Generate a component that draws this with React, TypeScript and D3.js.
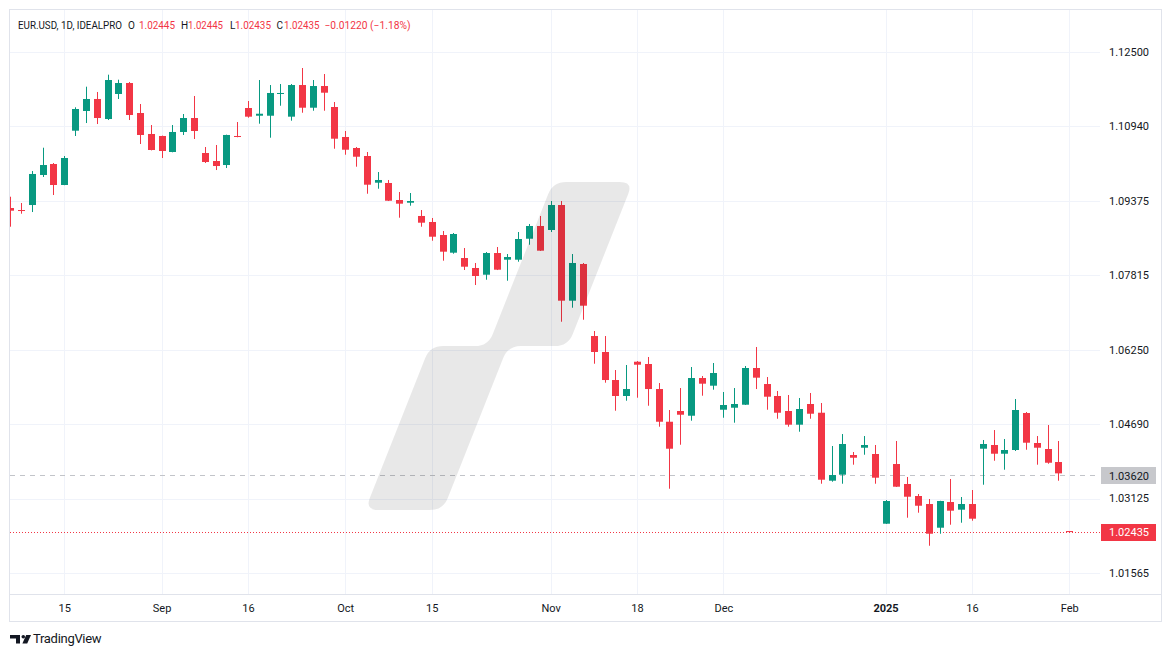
import React from 'react';
import * as d3 from 'd3';

const W = 1171;
const H = 657;

// OHLC per trading-bar index
const opens = [
  1.09221, 1.09179, 1.09284, 1.09914, 1.10144, 1.09704, 1.10843, 1.11256, 1.11508, 1.11088,
  1.11613, 1.11843, 1.11214, 1.10774, 1.10732, 1.10396, 1.10816, 1.11109, 1.10375, 1.10207,
  1.10123, 1.10732, 1.11319, 1.11157, 1.11157, 1.11613, 1.11137, 1.11801, 1.11325, 1.11780,
  1.11340, 1.10711, 1.10480, 1.10312, 1.09752, 1.09746, 1.09389, 1.09332, 1.09054, 1.08928,
  1.08655, 1.08284, 1.08172, 1.07963, 1.07822, 1.08277, 1.08137, 1.08137, 1.08577, 1.08844,
  1.08760, 1.09284, 1.07277, 1.08047, 1.06536, 1.06201, 1.05613, 1.05278, 1.05997, 1.05949,
  1.05424, 1.04738, 1.04963, 1.04864, 1.05655, 1.05494, 1.04990, 1.05032, 1.05095, 1.05865,
  1.05529, 1.05278, 1.04963, 1.04676, 1.05110, 1.04927, 1.03501, 1.03627, 1.04040, 1.04193,
  1.04061, 1.02599, 1.03851, 1.03432, 1.03180, 1.03012, 1.02515, 1.03054, 1.02893, 1.03012,
  1.04172, 1.04250, 1.04067, 1.04145, 1.04921, 1.04292, 1.04166, 1.03893, 1.02445,
];
const highs = [
  1.09458, 1.09326, 1.09997, 1.10486, 1.10165, 1.10312, 1.11334, 1.11766, 1.11655, 1.12018,
  1.11913, 1.11864, 1.11403, 1.10962, 1.10740, 1.10962, 1.11193, 1.11571, 1.10501, 1.10543,
  1.10760, 1.11025, 1.11466, 1.11906, 1.11801, 1.11822, 1.11822, 1.12158, 1.11906, 1.12032,
  1.11445, 1.10837, 1.10501, 1.10396, 1.09976, 1.09809, 1.09557, 1.09536, 1.09179, 1.09012,
  1.08739, 1.08697, 1.08382, 1.08068, 1.08298, 1.08403, 1.08256, 1.08718, 1.08886, 1.09054,
  1.09368, 1.09368, 1.08256, 1.08068, 1.06641, 1.06536, 1.05823, 1.05928, 1.06011, 1.06096,
  1.05550, 1.04984, 1.05445, 1.05886, 1.05697, 1.05970, 1.05362, 1.05445, 1.05907, 1.06306,
  1.05676, 1.05383, 1.05299, 1.05236, 1.05341, 1.05131, 1.04229, 1.04480, 1.04103, 1.04438,
  1.04250, 1.03096, 1.04334, 1.03579, 1.03222, 1.03117, 1.03080, 1.03537, 1.03159, 1.03306,
  1.04355, 1.04564, 1.04376, 1.05215, 1.04942, 1.04438, 1.04669, 1.04334, 1.02445,
];
const lows = [
  1.08829, 1.09102, 1.09137, 1.09872, 1.09494, 1.09700, 1.10732, 1.11004, 1.10983, 1.11067,
  1.11508, 1.11067, 1.10564, 1.10430, 1.10270, 1.10390, 1.10753, 1.10669, 1.10165, 1.10018,
  1.10060, 1.10705, 1.11116, 1.10990, 1.10696, 1.11367, 1.11053, 1.11220, 1.11262, 1.11262,
  1.10465, 1.10339, 1.10088, 1.09521, 1.09626, 1.09368, 1.09018, 1.09270, 1.08829, 1.08535,
  1.08116, 1.08263, 1.07921, 1.07606, 1.07717, 1.07920, 1.07696, 1.08095, 1.08451, 1.08320,
  1.08718, 1.06836, 1.07130, 1.06878, 1.05955, 1.05557, 1.04969, 1.05179, 1.05242, 1.05074,
  1.04634, 1.03333, 1.04256, 1.04760, 1.05284, 1.05410, 1.04822, 1.04718, 1.05090, 1.05424,
  1.04990, 1.04801, 1.04634, 1.04529, 1.04801, 1.03438, 1.03480, 1.03438, 1.03837, 1.04046,
  1.03438, 1.02595, 1.03370, 1.02725, 1.02830, 1.02137, 1.02389, 1.02578, 1.02620, 1.02662,
  1.03417, 1.03920, 1.03732, 1.04124, 1.04151, 1.03837, 1.03857, 1.03501, 1.02435,
];
const closes = [
  1.09165, 1.09158, 1.09935, 1.10123, 1.09704, 1.10270, 1.11298, 1.11508, 1.11109, 1.11906,
  1.11843, 1.11172, 1.10753, 1.10438, 1.10417, 1.10816, 1.11109, 1.10837, 1.10186, 1.10102,
  1.10753, 1.10711, 1.11137, 1.11199, 1.11634, 1.11634, 1.11801, 1.11325, 1.11780, 1.11640,
  1.10675, 1.10444, 1.10297, 1.09710, 1.09809, 1.09374, 1.09312, 1.09368, 1.08913, 1.08619,
  1.08305, 1.08676, 1.07990, 1.07795, 1.08277, 1.07927, 1.08193, 1.08571, 1.08844, 1.08326,
  1.09284, 1.07277, 1.08068, 1.07172, 1.06201, 1.05613, 1.05278, 1.05424, 1.05934, 1.05424,
  1.04738, 1.04172, 1.04885, 1.05655, 1.05536, 1.05760, 1.05089, 1.05110, 1.05865, 1.05662,
  1.05263, 1.04927, 1.04676, 1.05005, 1.04906, 1.03522, 1.03620, 1.04271, 1.03983, 1.04250,
  1.03564, 1.03075, 1.03375, 1.03165, 1.02976, 1.02389, 1.03075, 1.02872, 1.03012, 1.02704,
  1.04271, 1.04067, 1.04145, 1.04984, 1.04298, 1.04193, 1.03878, 1.03655, 1.02435,
];

const priceTicks = [1.125, 1.1094, 1.09375, 1.07815, 1.0625, 1.0469, 1.03125, 1.01565];
const timeTickLabels = ['15', 'Sep', '16', 'Oct', '15', 'Nov', '18', 'Dec', '2025', '16', 'Feb'];
const timeTickIndex = [5, 14, 22, 31, 39, 50, 58, 66, 81, 89, 98];
const boldTimeLabels = ['2025'];

const refLevel = 1.0362; // grey dashed level
const lastPrice = 1.02435;

const UP = '#089981';
const DOWN = '#F23645';
const GRID = '#f0f3fa';
const TEXT = '#131722';

const plotLeft = 10;
const plotRight = 1100;
const plotTop = 10;
const plotBottom = 594;

function roundedPolygon(pts: [number, number][], r: number) {
  const n = pts.length;
  let d = '';
  for (let i = 0; i < n; i++) {
    const p0 = pts[(i - 1 + n) % n];
    const p1 = pts[i];
    const p2 = pts[(i + 1) % n];
    const l1 = Math.hypot(p0[0] - p1[0], p0[1] - p1[1]);
    const l2 = Math.hypot(p2[0] - p1[0], p2[1] - p1[1]);
    const rr = Math.min(r, l1 / 2, l2 / 2);
    const a = [p1[0] + ((p0[0] - p1[0]) / l1) * rr, p1[1] + ((p0[1] - p1[1]) / l1) * rr];
    const b = [p1[0] + ((p2[0] - p1[0]) / l2) * rr, p1[1] + ((p2[1] - p1[1]) / l2) * rr];
    d += `${i === 0 ? 'M' : 'L'}${a[0]},${a[1]}Q${p1[0]},${p1[1]} ${b[0]},${b[1]}`;
  }
  return d + 'Z';
}

export default function App() {
  const x = d3.scaleLinear().domain([0, 98]).range([10.27, 10.27 + 98 * 10.806]);
  const y = d3.scaleLinear().domain([1.01565, 1.125]).range([573, 51.7]);
  const bodyW = 7;
  const font = 'Roboto, "Noto Sans", sans-serif';

  const watermark = roundedPolygon(
    [
      [553, 182], [633, 182], [568, 346], [508, 346],
      [443, 510], [365, 510], [430, 346], [488, 346],
    ],
    13
  );

  const candles = d3.range(opens.length).map((i) => {
    const o = opens[i], h = highs[i], l = lows[i], c = closes[i];
    const up = c >= o;
    const cx = Math.round(x(i));
    const top = y(Math.max(o, c));
    const bot = y(Math.min(o, c));
    return { i, cx, up, top, bot, hy: y(h), ly: y(l) };
  });

  const last = opens.length - 1;
  const chg = closes[last] - closes[last - 1];
  const chgPct = (chg / closes[last - 1]) * 100;
  const fmtSigned = (v: number, d: number) => (v < 0 ? '\u2212' : '+') + Math.abs(v).toFixed(d);

  return (
    <svg
      width={W}
      height={H}
      style={{ position: 'absolute', left: 0, top: 0, background: '#fff' }}
      fontFamily={font}
    >
      <rect x={0} y={0} width={W} height={H} fill="#fff" />
      <defs>
        <clipPath id="plot">
          <rect x={plotLeft} y={plotTop} width={plotRight - plotLeft} height={plotBottom - plotTop} />
        </clipPath>
      </defs>

      {/* grid */}
      <g clipPath="url(#plot)">
        {priceTicks.map((p) => (
          <line key={'h' + p} x1={plotLeft} x2={plotRight} y1={Math.round(y(p)) + 0.5} y2={Math.round(y(p)) + 0.5} stroke={GRID} />
        ))}
        {timeTickIndex.map((ti, k) => (
          <line key={'v' + k} x1={Math.round(x(ti)) + 0.5} x2={Math.round(x(ti)) + 0.5} y1={plotTop} y2={plotBottom} stroke={GRID} />
        ))}
        {/* reference levels */}
        <line x1={plotLeft} x2={plotRight} y1={Math.round(y(refLevel)) + 0.5} y2={Math.round(y(refLevel)) + 0.5} stroke="#c2c4c9" strokeDasharray="5 5" />
        <line x1={plotLeft} x2={plotRight} y1={Math.round(y(lastPrice)) + 0.5} y2={Math.round(y(lastPrice)) + 0.5} stroke={DOWN} strokeDasharray="1 2" />

        {/* candles */}
        {candles.map((c) => {
          const col = c.up ? UP : DOWN;
          return (
            <g key={c.i}>
              <rect x={c.cx} y={c.hy} width={1} height={Math.max(1, c.ly - c.hy)} fill={col} />
              <rect x={c.cx - 3} y={c.top} width={bodyW} height={Math.max(1, c.bot - c.top)} fill={col} />
            </g>
          );
        })}

        {/* watermark overlay */}
        <path d={watermark} fill="#000" fillOpacity={0.09} />
      </g>

      {/* frame */}
      <rect x={9.5} y={9.5} width={1152} height={612} fill="none" stroke="#e0e3eb" />
      <line x1={10} x2={1161} y1={594.5} y2={594.5} stroke="#e0e3eb" />

      {/* price axis labels */}
      {priceTicks.map((p) => (
        <text key={'pl' + p} x={1109} y={y(p)} dy="0.35em" fontSize={11} fill={TEXT}>
          {p.toFixed(5)}
        </text>
      ))}
      <rect x={1101} y={Math.round(y(refLevel)) - 8} width={55} height={17} fill="#c7c8cc" />
      <text x={1109} y={y(refLevel) + 1} dy="0.35em" fontSize={11} fill={TEXT}>
        {refLevel.toFixed(5)}
      </text>
      <rect x={1101} y={Math.round(y(lastPrice)) - 8} width={55} height={17} fill={DOWN} />
      <text x={1109} y={y(lastPrice) + 1} dy="0.35em" fontSize={11} fill="#fff">
        {lastPrice.toFixed(5)}
      </text>

      {/* time axis labels */}
      {timeTickLabels.map((t, k) => (
        <text
          key={'tl' + k}
          x={x(timeTickIndex[k]) + 0.5}
          y={608}
          dy="0.35em"
          textAnchor="middle"
          fontSize={11}
          fontWeight={boldTimeLabels.includes(t) ? 700 : 400}
          fill={TEXT}
        >
          {t}
        </text>
      ))}

      {/* legend header */}
      <g fontSize={10}>
        <text x={18} y={28.5} fill={TEXT} textLength={104} lengthAdjust="spacingAndGlyphs">EUR.USD, 1D, IDEALPRO</text>
        <text x={128} y={28.5} fill={TEXT}>O</text>
        <text x={139} y={28.5} fill={DOWN} textLength={36} lengthAdjust="spacingAndGlyphs">{opens[last].toFixed(5)}</text>
        <text x={181} y={28.5} fill={TEXT}>H</text>
        <text x={188} y={28.5} fill={DOWN} textLength={35} lengthAdjust="spacingAndGlyphs">{highs[last].toFixed(5)}</text>
        <text x={230} y={28.5} fill={TEXT}>L</text>
        <text x={235} y={28.5} fill={DOWN} textLength={36} lengthAdjust="spacingAndGlyphs">{lows[last].toFixed(5)}</text>
        <text x={276.5} y={28.5} fill={TEXT}>C</text>
        <text x={284} y={28.5} fill={DOWN} textLength={35.5} lengthAdjust="spacingAndGlyphs">{closes[last].toFixed(5)}</text>
        <text x={324.5} y={28.5} fill={DOWN} textLength={86} lengthAdjust="spacingAndGlyphs">
          {fmtSigned(chg, 5) + ' (' + fmtSigned(chgPct, 2) + '%)'}
        </text>
      </g>

      {/* TradingView logo */}
      <g fill={TEXT}>
        <path d="M10,635 H20 V643.5 H16 V638.6 H10 Z" />
        <circle cx={23.3} cy={636.8} r={1.8} />
        <path d="M26.2,635 H31 L27.2,643.5 H22.4 Z" />
        <text x={33} y={643.3} fontSize={13} fill={TEXT} letterSpacing={-0.3}>TradingView</text>
      </g>
    </svg>
  );
}
